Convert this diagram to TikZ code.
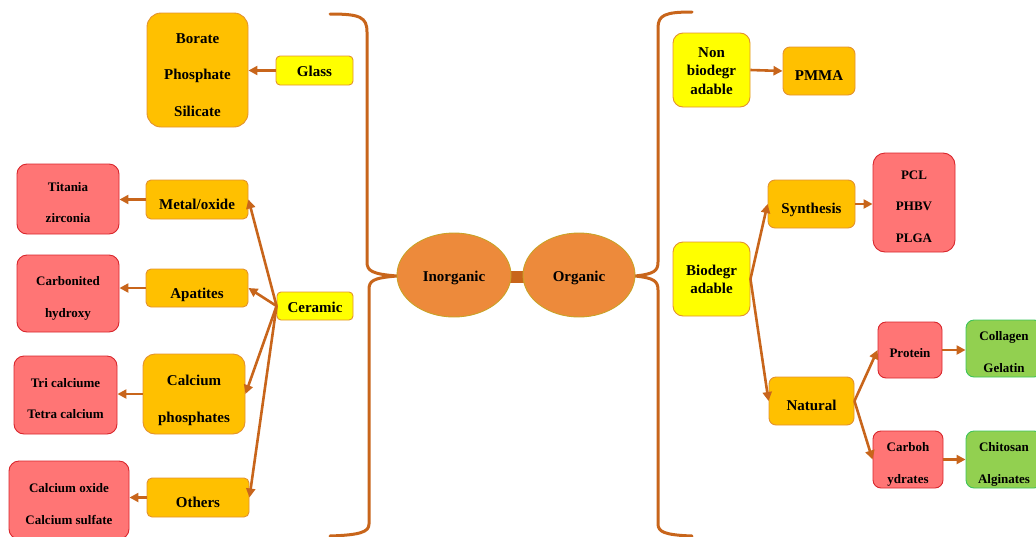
\documentclass[tikz,border=0pt]{standalone}
\usepackage{fontspec}
\setmainfont{Liberation Serif}
\usetikzlibrary{arrows.meta,shapes.geometric}
\definecolor{amber}{HTML}{FFC000}
\definecolor{amberb}{HTML}{E3922E}
\definecolor{yel}{HTML}{FFFF00}
\definecolor{redf}{HTML}{FF7575}
\definecolor{redb}{HTML}{D8262C}
\definecolor{grnf}{HTML}{92D050}
\definecolor{grnb}{HTML}{3CC35A}
\definecolor{ellf}{HTML}{ED8A3B}
\definecolor{ellb}{HTML}{C9A227}
\definecolor{arr}{HTML}{C8651B}
\newcommand\topst[1]{\rule{0pt}{#1pt}}
\newcommand\botst{\rule[-4pt]{0pt}{4pt}}
\tikzset{
  box/.style={rectangle,rounded corners=7pt,inner sep=0pt,align=center,line width=0.9pt},
  ambox/.style={box,fill=amber,draw=amberb},
  yelbox/.style={box,fill=yel,draw=amberb},
  redbox/.style={box,fill=redf,draw=redb,rounded corners=10pt},
  grnbox/.style={box,fill=grnf,draw=grnb,rounded corners=8pt},
  ellnode/.style={ellipse,fill=ellf,draw=ellb,line width=0.9pt,inner sep=0pt},
  big/.style={font=\bfseries\fontsize{15}{18}\selectfont},
  small/.style={font=\bfseries\fontsize{13}{16}\selectfont},
  conn/.style={draw=arr,line width=2.6pt,-{Triangle[length=9pt,width=9pt]}},
  brace/.style={draw=arr,line width=3pt,line cap=round,line join=round}
}
\begin{document}
\begin{tikzpicture}[x=1pt,y=-1pt]
\useasboundingbox (0,0) rectangle (1036,536);
% braces
\draw[brace] (330,14) .. controls (360,14) and (367,17) .. (367,32) -- (367,262)
  .. controls (367,271) and (372,274) .. (397,276)
  .. controls (372,278) and (369,281) .. (369,290) -- (369,524)
  .. controls (369,532) and (360,535) .. (330,536);
\draw[brace] (692,12) .. controls (665,12) and (658,15) .. (658,28) -- (658,262)
  .. controls (658,271) and (654,274) .. (635,276)
  .. controls (654,278) and (658,281) .. (658,290) -- (658,524)
  .. controls (658,532) and (665,535) .. (692,536);
% central ellipses
\fill[arr] (509,271) rectangle (526,283);
\node[ellnode,big,minimum width=114pt,minimum height=84pt] (inorg) at (454,275) {\topst{16}Inorganic\botst};
\node[ellnode,big,minimum width=112pt,minimum height=84pt] (org) at (579,275) {\topst{16}Organic\botst};
% left side
\node[ambox,rounded corners=14pt,minimum width=101pt,minimum height=114pt,font=\bfseries\fontsize{15}{36.5}\selectfont] (borate) at (197.5,70) {\topst{23}Borate\\Phosphate\\Silicate\botst};
\node[yelbox,big,minimum width=77pt,minimum height=29pt,rounded corners=4pt] (glass) at (314.5,70.5) {\topst{15}Glass\botst};
\node[redbox,minimum width=102pt,minimum height=70pt,font=\bfseries\fontsize{13}{31}\selectfont] (titania) at (68,199) {\topst{19.6}Titania\\zirconia\botst};
\node[ambox,big,minimum width=102pt,minimum height=39pt,rounded corners=5pt] (metal) at (197,199.5) {\topst{23}Metal/oxide\botst};
\node[redbox,minimum width=102pt,minimum height=77pt,font=\bfseries\fontsize{13}{32}\selectfont] (carb) at (68,293.5) {\topst{19.6}Carbonited\\hydroxy\botst};
\node[ambox,big,minimum width=102pt,minimum height=38pt,rounded corners=5pt] (apat) at (197,288) {\topst{24}Apatites\botst};
\node[yelbox,big,minimum width=76pt,minimum height=28pt,rounded corners=4pt] (ceramic) at (315,306) {\topst{16}Ceramic\botst};
\node[redbox,minimum width=103pt,minimum height=78pt,font=\bfseries\fontsize{13}{31}\selectfont] (tri) at (65.5,395) {\topst{19.6}Tri calciume\\Tetra calcium\botst};
\node[ambox,rounded corners=12pt,minimum width=102pt,minimum height=80pt,font=\bfseries\fontsize{15}{37}\selectfont] (calph) at (194,394) {\topst{23}Calcium\\phosphates\botst};
\node[redbox,minimum width=120pt,minimum height=78pt,font=\bfseries\fontsize{13}{32}\selectfont] (calox) at (69,500) {\topst{20.6}Calcium oxide\\Calcium sulfate\botst};
\node[ambox,big,minimum width=102pt,minimum height=39pt,rounded corners=5pt] (others) at (198,497.5) {\topst{23}Others\botst};
% right side
\node[yelbox,rounded corners=10pt,minimum width=77pt,minimum height=74pt,font=\bfseries\fontsize{15}{18.5}\selectfont] (nonbio) at (711.5,70) {\topst{15}Non\\biodegr\\adable\botst};
\node[ambox,big,minimum width=72pt,minimum height=48pt] (pmma) at (819,71) {\topst{22}PMMA\botst};
\node[ambox,big,minimum width=87pt,minimum height=48pt] (synth) at (811.5,204) {\topst{22}Synthesis\botst};
\node[redbox,rounded corners=12pt,minimum width=82pt,minimum height=99pt,font=\bfseries\fontsize{13}{31.5}\selectfont] (pcl) at (914,202.5) {\topst{20.6}PCL\\PHBV\\PLGA\botst};
\node[yelbox,rounded corners=10pt,minimum width=77pt,minimum height=74pt,font=\bfseries\fontsize{15}{18.5}\selectfont] (bio) at (711.5,279) {\topst{14.5}Biodegr\\adable\botst};
\node[ambox,big,minimum width=85pt,minimum height=48pt] (natural) at (811.5,401) {\topst{22}Natural\botst};
\node[redbox,small,rounded corners=8pt,minimum width=64pt,minimum height=56pt] (protein) at (910,350) {\topst{18.6}Protein\botst};
\node[grnbox,minimum width=76pt,minimum height=57pt,font=\bfseries\fontsize{13}{32}\selectfont] (collagen) at (1004,348.5) {\topst{19.6}Collagen\\Gelatin\botst};
\node[redbox,rounded corners=8pt,minimum width=70pt,minimum height=57pt,font=\bfseries\fontsize{13}{32}\selectfont] (carboh) at (908,459.5) {\topst{19.6}Carboh\\ydrates\botst};
\node[grnbox,minimum width=76pt,minimum height=57pt,font=\bfseries\fontsize{13}{32}\selectfont] (chitosan) at (1004,459.5) {\topst{19.6}Chitosan\\Alginates\botst};
% arrows left
\draw[conn] (glass.west) -- (borate.east |- glass.west);
\draw[conn] (metal.west) -- (titania.east |- metal.west);
\draw[conn] (apat.west) -- (carb.east |- apat.west);
\draw[conn] (calph.west) -- (tri.east |- calph.west);
\draw[conn] (others.west) -- (calox.east |- others.west);
\draw[conn] (ceramic.west) -- (metal.east);
\draw[conn] (ceramic.west) -- (apat.east);
\draw[conn] (ceramic.west) -- (calph.east);
\draw[conn] (ceramic.west) -- (others.east);
% arrows right
\draw[conn] (nonbio.east) -- (pmma.west);
\draw[conn] (synth.east) -- (pcl.west |- synth.east);
\draw[conn] (bio.east) -- (synth.west);
\draw[conn] (bio.east) -- (natural.west);
\draw[conn] (natural.east) -- (protein.west);
\draw[conn] (natural.east) -- (carboh.west);
\draw[conn] (protein.east) -- (collagen.west |- protein.east);
\draw[conn] (carboh.east) -- (chitosan.west |- carboh.east);
\end{tikzpicture}
\end{document}
